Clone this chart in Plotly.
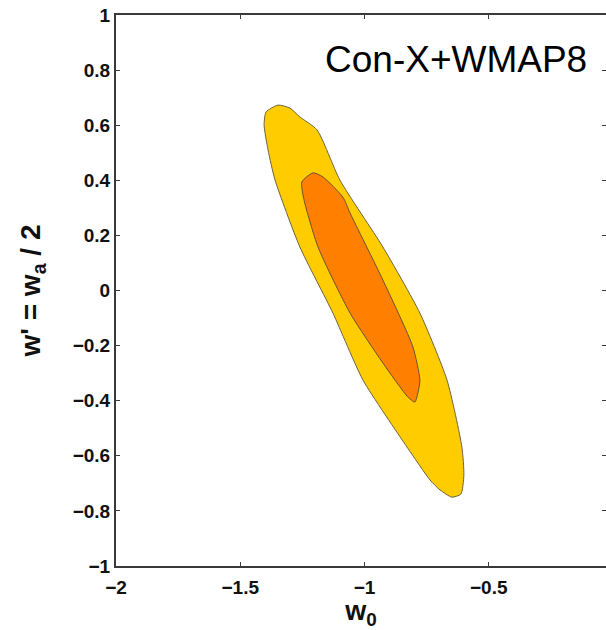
import plotly.graph_objects as go

# outer (95%) contour, data coordinates (w0, w')
outer_w0 = [-1.348, -1.300, -1.260, -1.191, -1.099, -0.926, -0.777, -0.668, -0.608, -0.600,
            -0.612, -0.648, -0.696, -0.736, -0.829, -1.006, -1.127, -1.260, -1.360, -1.388,
            -1.404, -1.396, -1.348]
outer_wp = [0.673, 0.662, 0.630, 0.583, 0.401, 0.158, -0.082, -0.325, -0.568, -0.670,
            -0.739, -0.750, -0.724, -0.688, -0.568, -0.325, -0.082, 0.158, 0.401, 0.510,
            0.601, 0.648, 0.673]

# inner (68%) contour
inner_w0 = [-1.207, -1.167, -1.087, -1.058, -0.926, -0.805, -0.777, -0.785, -0.797, -0.825,
            -0.926, -1.058, -1.187, -1.243, -1.252, -1.207]
inner_wp = [0.427, 0.412, 0.339, 0.281, 0.038, -0.205, -0.325, -0.372, -0.405, -0.387,
            -0.263, -0.082, 0.158, 0.328, 0.394, 0.427]

x_ticks = [-2, -1.5, -1, -0.5, 0]
x_labels = ["−2", "−1.5", "−1", "−0.5", "0"]
y_ticks = [1, 0.8, 0.6, 0.4, 0.2, 0, -0.2, -0.4, -0.6, -0.8, -1]
y_labels = ["1", "0.8", "0.6", "0.4", "0.2", "0", "−0.2", "−0.4", "−0.6", "−0.8", "−1"]

label_text = "Con-X+WMAP8"

FONT = "Liberation Sans, Arial, sans-serif"

fig = go.Figure()
fig.add_trace(go.Scatter(x=outer_w0, y=outer_wp, fill="toself", mode="lines",
                         fillcolor="#FFCC00",
                         line=dict(color="#6b6340", width=1, shape="spline", smoothing=0.6),
                         hoverinfo="skip", showlegend=False))
fig.add_trace(go.Scatter(x=inner_w0, y=inner_wp, fill="toself", mode="lines",
                         fillcolor="#FF7F00",
                         line=dict(color="#6b5030", width=1, shape="spline", smoothing=0.6),
                         hoverinfo="skip", showlegend=False))
# invisible trace to hold right-side tick axis
fig.add_trace(go.Scatter(x=[-1.5], y=[0], yaxis="y2", mode="markers",
                         marker=dict(opacity=0), hoverinfo="skip", showlegend=False))

tickfont = dict(family=FONT, size=19, color="#111")
axcol = "#3a3a3a"

pw, ph = 606 - 116, 630 - 15 - 64

fig.update_layout(
    width=606, height=630,
    margin=dict(l=116, r=0, t=15, b=64),
    plot_bgcolor="white", paper_bgcolor="white",
    xaxis=dict(range=[-2, -0.028], tickvals=x_ticks, ticktext=["<b>%s</b>" % t for t in x_labels],
               ticks="inside", ticklen=4, tickwidth=1, tickcolor=axcol, ticklabelstandoff=3,
               showline=True, linecolor=axcol, linewidth=2, mirror="ticks",
               showgrid=False, zeroline=False, tickfont=tickfont,
               title=dict(text="<b>w<sub>0</sub></b>", standoff=0,
                          font=dict(family=FONT, size=27, color="#111"))),
    yaxis=dict(range=[-1, 1], tickvals=y_ticks, ticktext=["<b>%s</b>" % t for t in y_labels],
               ticks="inside", ticklen=4, tickwidth=1, tickcolor=axcol,
               showline=True, linecolor=axcol, linewidth=2, mirror=False,
               showgrid=False, zeroline=False, tickfont=tickfont,
               title=dict(text="<b>w' = w<sub>a</sub> / 2</b>", standoff=24,
                          font=dict(family=FONT, size=28, color="#111"))),
    yaxis2=dict(range=[-1, 1], overlaying="y", side="right", tickvals=y_ticks,
                ticks="inside", ticklen=4, tickwidth=1, tickcolor=axcol,
                showticklabels=False, showline=False, showgrid=False, zeroline=False),
    annotations=[dict(x=(456 - 116) / pw, y=(566 - 60) / ph, xref="paper", yref="paper",
                      xanchor="center", yanchor="middle",
                      text=label_text, showarrow=False,
                      font=dict(family=FONT, size=37, color="#000"))],
)

fig.write_html("out.html")
